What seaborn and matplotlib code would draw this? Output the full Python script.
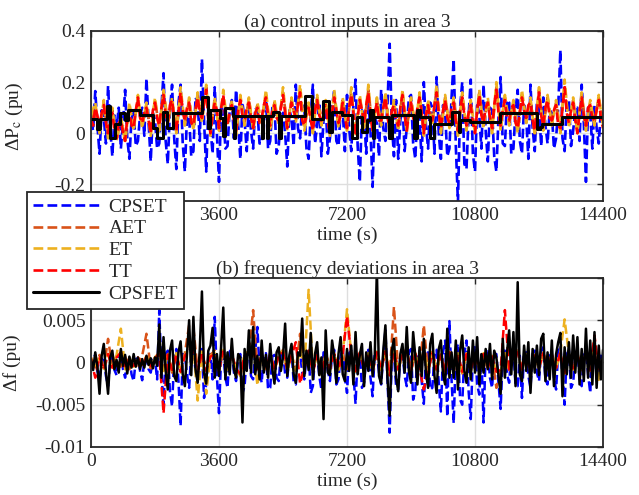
import numpy as np
import pandas as pd
import matplotlib
matplotlib.use("Agg")
import matplotlib.pyplot as plt
import seaborn as sns

# ---------------- data ----------------
T_END = 14400
x_ticks = [0, 3600, 7200, 10800, 14400]
x_ticklabels = ["0", "3600", "7200", "10800", "14400"]
a_yticks = [-0.2, 0, 0.2, 0.4]
a_yticklabels = ["-0.2", "0", "0.2", "0.4"]
b_yticks = [-0.01, -0.005, 0, 0.005, 0.01]
b_yticklabels = ["-0.01", "-0.005", "0", "0.005", "0.01"]

series_names = ["CPSET", "AET", "ET", "TT", "CPSFET"]
series_colors = ["#0000FF", "#D95319", "#EDB120", "#FF0000", "#000000"]

# (a) control inputs (pu), each list sampled evenly over 0..14400 s
a_cpset = [
    0.05, 0.01, 0.165, 0.03, -0.08, 0.09, 0.06, -0.04, 0.185, 0.02, -0.09, 0.07, 0.02, 0.10, -0.06, 0.04, 0.17, -0.02, -0.10, 0.06,
    0.08, -0.05, -0.03, 0.07, 0.10, -0.01, 0.215, 0.04, -0.11, 0.08, 0.05, -0.06, -0.04, 0.10, 0.235, -0.03, -0.12, 0.09, 0.19, -0.02,
    -0.14, 0.12, 0.19, -0.04, -0.15, 0.07, 0.06, -0.09, -0.07, 0.14, 0.12, -0.03, 0.29, 0.05, -0.15, 0.10, 0.02, -0.08, 0.18, 0.00,
    -0.19, 0.11, 0.08, -0.06, -0.05, 0.09, 0.13, -0.02, 0.17, 0.03, -0.10, 0.12, 0.05, -0.07, 0.12, 0.01, -0.06, 0.10, 0.09, -0.04,
    -0.04, 0.08, 0.14, -0.06, -0.03, 0.10, 0.11, -0.08, -0.05, 0.06, 0.08, 0.00, -0.13, 0.09, 0.06, -0.05, 0.19, 0.02, -0.02, 0.11,
    0.10, -0.06, -0.10, 0.08, 0.19, -0.04, 0.03, 0.12, -0.09, 0.05, 0.12, -0.08, -0.02, 0.10, 0.17, -0.03, -0.05, 0.08, 0.09, -0.07,
    0.15, 0.02, -0.07, 0.11, 0.21, -0.05, -0.19, 0.09, 0.07, -0.08, 0.13, 0.01, -0.21, 0.06, 0.04, -0.09, 0.17, 0.02, -0.03, 0.12,
    0.35, 0.04, -0.09, 0.13, -0.10, 0.05, 0.12, -0.07, 0.02, 0.14, 0.15, -0.04, -0.10, 0.08, 0.06, -0.11, 0.20, 0.03, -0.06, 0.12,
    0.10, -0.08, 0.22, 0.00, -0.10, 0.11, 0.08, -0.09, -0.06, 0.14, 0.29, -0.05, -0.27, 0.10, 0.20, -0.12, -0.14, 0.07, 0.21, -0.08,
    -0.15, 0.12, 0.07, -0.06, 0.19, 0.01, -0.11, 0.10, 0.09, -0.09, -0.15, 0.06, 0.22, -0.04, -0.05, 0.13, 0.12, -0.08, -0.06, 0.09,
    0.17, -0.03, -0.08, 0.11, 0.06, -0.10, 0.19, 0.02, -0.07, 0.12, 0.10, -0.05, 0.14, 0.03, -0.04, 0.09, 0.08, -0.06, -0.02, 0.10,
    0.325, -0.02, -0.07, 0.12, 0.13, -0.05, 0.01, 0.09, 0.10, -0.03, 0.19, 0.04, -0.19, 0.10, 0.08, -0.06, 0.11, 0.02, -0.04, 0.09,
    0.06,
]
a_aet = [
    0.05, 0.09, 0.01, 0.12, -0.01, 0.09, -0.03, 0.06, -0.02, 0.10,
    0.03, 0.13, 0.03, 0.11, 0.01, 0.13, 0.02, 0.16, 0.05, 0.12,
    0.02, 0.15, 0.04, 0.13, 0.02, 0.15, 0.05, 0.18, 0.01, 0.13,
    0.03, 0.14, 0.05, 0.12, 0.00, 0.14, 0.04, 0.13, 0.03, 0.11,
    0.05, 0.15, 0.02, 0.12, 0.04, 0.16, 0.03, 0.13, 0.05, 0.17,
    0.02, 0.11, 0.02, 0.14, 0.04, 0.12, 0.01, 0.15, 0.03, 0.13,
    0.03, 0.16, 0.01, 0.14, 0.03, 0.17, 0.02, 0.13, 0.04, 0.15,
    0.01, 0.12, 0.02, 0.16, 0.02, 0.13, 0.03, 0.15, 0.01, 0.12,
    0.04, 0.17, 0.01, 0.14, 0.03, 0.13, 0.00, 0.15, 0.02, 0.12,
    0.01, 0.16, 0.03, 0.13, 0.01, 0.18, 0.02, 0.14, 0.04, 0.12,
    0.01, 0.15, 0.05, 0.13, 0.00, 0.17, 0.02, 0.14, 0.04, 0.12,
    0.01, 0.19, 0.03, 0.13, 0.01, 0.15, 0.02, 0.12, 0.04, 0.14,
    0.03,
]
a_et = [
    0.07, 0.12, 0.00, 0.13, -0.02, 0.10, -0.03, 0.07, -0.04, 0.12,
    0.01, 0.15, 0.02, 0.12, -0.01, 0.14, 0.01, 0.17, 0.03, 0.14,
    0.00, 0.18, 0.03, 0.14, 0.01, 0.16, 0.04, 0.19, -0.01, 0.14,
    0.01, 0.17, 0.03, 0.13, -0.01, 0.15, 0.03, 0.14, 0.01, 0.12,
    0.04, 0.17, 0.01, 0.13, 0.03, 0.18, 0.01, 0.14, 0.04, 0.19,
    0.01, 0.12, 0.00, 0.15, 0.03, 0.13, -0.01, 0.17, 0.02, 0.14,
    0.01, 0.18, -0.01, 0.15, 0.02, 0.19, 0.00, 0.14, 0.03, 0.16,
    -0.01, 0.13, 0.01, 0.17, 0.00, 0.14, 0.02, 0.16, -0.01, 0.13,
    0.03, 0.19, 0.00, 0.15, 0.02, 0.14, -0.01, 0.16, 0.01, 0.13,
    0.00, 0.17, 0.02, 0.14, 0.00, 0.20, 0.01, 0.15, 0.03, 0.13,
    0.00, 0.17, 0.04, 0.14, -0.01, 0.18, 0.01, 0.15, 0.03, 0.13,
    0.00, 0.21, 0.02, 0.14, 0.00, 0.16, 0.01, 0.13, 0.03, 0.15,
    0.02,
]
a_tt = [
    0.06, 0.03, 0.10, 0.07, 0.02, 0.08, 0.11, 0.04, 0.00, 0.06, 0.08, 0.01, -0.02, 0.04, 0.05, 0.00, -0.03, 0.06, 0.09, 0.03,
    0.02, 0.09, 0.14, 0.06, 0.04, 0.08, 0.10, 0.05, 0.00, 0.09, 0.12, 0.06, 0.03, 0.10, 0.15, 0.07, 0.04, 0.11, 0.13, 0.05,
    0.01, 0.08, 0.16, 0.09, 0.05, 0.10, 0.12, 0.04, 0.03, 0.09, 0.14, 0.08, 0.06, 0.12, 0.17, 0.05, 0.00, 0.07, 0.12, 0.09,
    0.02, 0.10, 0.15, 0.06, 0.04, 0.08, 0.11, 0.05, 0.01, 0.09, 0.13, 0.07, 0.05, 0.10, 0.12, 0.06, 0.02, 0.08, 0.10, 0.04,
    0.06, 0.11, 0.14, 0.07, 0.03, 0.09, 0.11, 0.06, 0.05, 0.10, 0.15, 0.08, 0.02, 0.07, 0.12, 0.09, 0.06, 0.11, 0.16, 0.05,
    0.03, 0.08, 0.10, 0.05, 0.01, 0.09, 0.13, 0.07, 0.05, 0.10, 0.11, 0.04, 0.00, 0.08, 0.14, 0.09, 0.04, 0.07, 0.12, 0.06,
    0.02, 0.10, 0.15, 0.08, 0.00, 0.06, 0.13, 0.09, 0.04, 0.11, 0.16, 0.07, 0.01, 0.08, 0.12, 0.05, 0.05, 0.10, 0.14, 0.06,
    0.02, 0.09, 0.11, 0.05, 0.03, 0.10, 0.15, 0.07, 0.01, 0.08, 0.12, 0.06, 0.04, 0.10, 0.14, 0.08, 0.00, 0.07, 0.11, 0.05,
    0.05, 0.11, 0.16, 0.08, 0.02, 0.09, 0.13, 0.06, 0.04, 0.10, 0.12, 0.05, 0.01, 0.09, 0.14, 0.07, 0.03, 0.08, 0.11, 0.04,
    0.00, 0.09, 0.15, 0.07, 0.04, 0.10, 0.12, 0.06, 0.02, 0.11, 0.17, 0.08, 0.03, 0.09, 0.13, 0.06, 0.05, 0.10, 0.11, 0.04,
    0.02, 0.08, 0.14, 0.09, 0.06, 0.11, 0.12, 0.05, 0.01, 0.09, 0.16, 0.07, 0.03, 0.10, 0.13, 0.06, 0.05, 0.09, 0.11, 0.03,
    0.02, 0.10, 0.18, 0.08, 0.04, 0.09, 0.12, 0.05, 0.00, 0.08, 0.14, 0.07, 0.03, 0.10, 0.11, 0.06, 0.05, 0.09, 0.13, 0.06,
    0.02,
]
# CPSFET control input is piecewise constant: change times (s) and levels (pu)
a_cpsfet_t = [0, 160, 250, 440, 530, 675, 815, 955, 1040, 1380, 1745, 1855, 2025,
              2140, 2305, 3120, 3290, 3350, 3630, 3712, 3780, 3995, 4020, 4060,
              4810, 4850, 4950, 4990, 5120, 5300, 5340, 6020, 6215, 6525, 6700,
              6780, 7060, 7340, 7480, 7620, 7760, 7850, 7920, 7960, 8380, 8465,
              9085, 9170, 9250, 9535, 9650, 10150, 10350, 10390, 10660, 11500,
              12545, 12630, 12685, 13260, 14400]
a_cpsfet_v = [0.055, 0.015, 0.055, 0.105, -0.02, 0.035, 0.08, 0.05, 0.09, 0.07, 0.02,
              -0.02, 0.085, 0.02, 0.08, 0.14, 0.02, 0.09, 0.06, -0.01, 0.10, 0.067,
              -0.02, 0.067, -0.02, 0.067, -0.02, 0.067, 0.085, -0.02, 0.067, 0.145,
              0.055, 0.125, 0.005, 0.085, 0.07, -0.02, 0.065, 0.005, 0.05, 0.09,
              -0.02, 0.065, -0.02, 0.07, -0.02, 0.09, 0.065, -0.02, 0.035, 0.085,
              0.005, 0.05, 0.045, 0.08, 0.015, 0.025, 0.038, 0.063, 0.063]

# (b) frequency deviations, in units of 1e-3 pu, each list sampled evenly over 0..14400 s
b_cpset_m = [
    -0.8, 0.4, 0.9, -1.0, -2.0, 0.5, 0.7, -1.6, -2.8, 0.3, 0.6, -0.9, -1.5, 0.7, 1.1, -0.8, -1.8, 0.3, 0.7, -1.4,
    -2.2, 0.4, 0.5, -1.0, -2.1, 0.3, 0.6, -0.8, -1.2, 0.3, 0.4, -2.0, 6.2, -1.2, -5.0, 1.0, 1.4, -3.4, -5.2, 0.6,
    1.6, -2.2, -7.5, 1.0, 0.9, -1.4, -3.0, 1.2, 1.4, -1.0, -2.0, 0.9, 1.6, -4.2, -2.6, 0.7, 1.0, -2.0, 5.4, -1.6,
    -6.0, 0.8, 1.2, -1.8, -3.0, 1.3, 1.6, -1.2, -2.2, 0.6, 1.0, -3.6, -2.8, 0.8, 1.2, -1.6, -2.0, 1.4, 4.2, -1.0,
    -2.4, 0.9, 1.1, -3.2, -3.0, 0.7, 0.9, -1.8, -2.2, 1.1, 1.4, -1.4, -1.8, 0.6, 1.6, -2.4, -2.6, 1.0, 1.2, -1.2,
    -2.0, 0.8, 1.4, -3.6, -2.8, 0.7, 1.1, -1.6, -3.2, 1.2, 1.3, -1.0, -2.2, 0.9, 1.5, -2.6, -2.0, 0.7, 1.8, -1.8,
    -3.6, 1.1, 1.4, -1.4, -4.9, 0.9, 1.0, -3.0, -2.4, 0.6, 1.5, -1.8, -4.0, 1.3, 1.1, -1.2, -2.6, 0.8, 3.8, -2.2,
    -8.3, 0.7, 1.0, -2.8, -3.2, 0.9, 1.3, -1.6, -2.8, 1.1, 1.6, -4.4, -3.4, 0.8, 1.4, -2.2, -4.9, 1.0, 1.2, -3.2,
    -3.0, 0.9, 1.5, -2.4, -5.8, 1.2, 2.6, -6.4, 4.9, -2.0, -7.2, 1.0, 2.2, -4.4, -5.0, 1.1, 2.6, -3.4, -6.7, 0.8,
    2.0, -2.6, -3.8, 0.9, -7.1, 1.2, 1.3, -1.8, -3.0, 0.7, 1.0, -2.4, -5.5, 0.9, 1.4, -1.4, -2.4, 1.1, 1.6, -2.8,
    -2.8, 0.8, -4.2, 1.1, 1.2, -1.6, -3.0, 1.0, 1.4, -1.2, -2.2, 1.3, 1.8, -2.0, -2.6, 0.8, 1.1, -1.8, -3.2, 1.2,
    2.0, -1.6, -5.0, 1.0, 1.4, -3.0, -2.4, 0.7, 1.6, -2.0, -2.8, 0.9, 1.2, -1.4, -3.6, 1.3, 1.5, -1.6, -2.0, 0.8,
    0.6,
]
b_aet_m = [
    0.6, -0.8, 0.9, -0.7, 2.8, -0.6, 0.8, -0.5, 0.7, -0.8,
    0.5, -0.6, 0.8, 3.4, -0.7, 0.6, 1.2, -0.9, 1.0, -1.2,
    0.8, -1.0, 1.1, 4.4, 4.1, -1.0, 1.2, -0.8, 0.9, 1.4,
    -1.0, 1.3, -0.7, 1.0, -0.9, -1.6, 0.8, 1.2, 6.2, -0.9,
    1.0, -0.8, 1.1, -0.9, 0.8, 1.5, -0.8, 1.0, -1.0, 3.4,
    -0.7, 1.2, -0.9, 1.0, -1.4, 1.2, -0.8, 1.0, -0.9, 1.1,
    -0.8, 1.0, -1.1, 1.2, -0.8, 1.0, -1.0, 1.4, -0.9, 1.3,
    -1.5, 6.6, -0.9, 1.0, 1.6, -1.0, 1.1, -0.8, 4.4, -1.2,
    1.3, -0.9, 1.0, -1.2, 1.3, -1.1, 0.9, -1.3, 1.1, -1.0,
    1.0, -0.8, 0.9, -0.7, 0.8, -3.0, -1.1, 1.1, -0.9, 1.2,
    1.4, -0.9, 1.0, -1.1, 0.9, -0.7, 1.2, -0.8, 1.0, -0.7,
    1.2, -1.3, 1.0, -0.8, 1.1, -0.9, 1.4, -1.0, 1.2, -0.8,
    0.5,
]
b_et_m = [
    0.5, -0.7, 0.8, -0.9, 1.0, -0.6, 0.9, 4.0, -0.8, 0.6,
    -0.5, 0.7, -0.6, 0.9, -0.5, 0.6, 1.2, -1.0, 1.0, -1.0,
    1.1, -1.2, 0.9, 1.8, 1.9, -4.5, 1.3, -3.7, 0.8, 1.1,
    -1.0, 1.5, -0.9, 1.0, -0.8, -1.6, 1.1, 1.3, 1.9, -2.7,
    0.9, -0.7, 1.0, -0.9, 0.9, 1.4, -1.0, 0.9, -1.0, 1.6,
    -0.9, 8.6, -0.8, 1.0, -1.4, 1.1, -0.9, 1.1, -0.9, 1.0,
    6.3, 1.0, -1.1, 1.2, -0.8, 1.1, -1.2, 1.3, -0.9, 1.4,
    -1.5, 1.6, -0.9, 1.0, 1.4, -1.0, 1.1, -0.8, 1.5, -1.1,
    1.2, -0.9, 1.0, -1.1, 1.3, -1.0, 1.1, -1.2, 1.1, -1.0,
    1.0, -0.8, 1.1, -0.7, 0.8, -1.2, -1.0, 1.1, -0.9, 1.2,
    1.3, -0.9, 1.0, -1.1, 0.9, -0.7, 1.2, -0.8, 1.0, -0.7,
    1.2, 5.1, 1.0, -0.8, 1.1, -0.9, 1.3, -1.0, 2.9, -2.2,
    0.4,
]
b_tt_m = [
    0.4, -1.8, 0.6, -0.8, 1.0, -0.6, 0.6, 1.2, -0.7, 0.5,
    -0.4, 0.6, -0.5, 0.7, -0.4, 0.5, 1.0, -6.0, 0.9, -0.9,
    1.0, -1.1, 0.8, 1.5, 1.6, -1.3, 1.2, -1.0, 0.7, 1.0,
    -0.9, 1.3, -0.8, 0.9, -0.7, -1.4, 0.8, 1.1, 1.7, -0.8,
    0.8, -0.6, 0.9, -0.8, 0.8, 1.2, -0.8, 0.8, 2.4, -2.5,
    -0.6, 1.4, -1.2, 0.9, -1.2, 1.0, -0.8, 1.0, -0.8, 0.9,
    5.5, 0.9, -1.0, 1.1, -0.7, 1.0, -1.0, 1.2, -0.8, 1.3,
    -1.5, 1.3, -0.8, 0.9, 1.3, -0.9, 1.0, -0.7, -3.2, -1.0,
    1.1, -0.8, 0.9, -1.0, 1.2, -0.9, 1.0, -1.1, 1.0, -0.9,
    0.9, -0.7, 1.0, -0.6, 0.7, -1.1, -0.9, 6.2, -0.8, 1.1,
    1.2, -0.8, 0.9, -1.0, 0.8, -0.6, 1.1, -0.7, 0.9, -0.6,
    1.1, -1.2, 0.9, -0.7, 1.0, -0.8, 1.2, -0.9, 3.2, -1.0,
    0.3,
]
b_cpsfet_m = [
    0.4, -0.9, 1.2, -0.5, -3.7, 0.8, 2.2, -1.1, -3.7, 0.6, 1.4, -0.8, 0.3, -1.2, 1.6, -0.4, 0.9, -1.3, 0.7, -0.6,
    1.0, -0.5, 0.6, -0.8, 0.4, -0.6, 0.8, -0.3, 0.5, -0.7, 0.6, -0.4, 4.5, -1.8, 3.0, -1.0, -3.2, 1.4, 2.6, -1.6,
    -2.2, 1.2, 2.5, -1.4, -2.8, 1.0, 5.0, -1.5, 5.4, -0.8, -2.4, 1.6, 8.4, -1.2, -2.5, 1.4, 2.0, 4.1, -1.8, 1.0,
    -1.6, 1.8, 6.5, -2.0, 1.2, -1.4, 2.8, -0.8, -1.8, 1.0, 0.6, -7.1, 1.6, -1.0, 3.8, -1.2, 4.2, -1.4, 0.8, -2.0,
    2.6, -1.2, 0.9, -1.8, 2.2, -0.8, -2.5, 1.2, 1.8, -1.0, 0.7, 4.6, -1.6, 0.9, 2.2, -1.4, -2.4, 1.2, 0.8, 5.2,
    -1.6, 1.4, -0.9, 3.5, -2.0, 1.0, 2.4, -1.5, 0.6, -6.7, 3.8, -1.2, -1.5, 2.6, 0.8, -2.4, 1.0, 3.0, -1.4, -2.2,
    1.6, -1.0, 2.0, -2.6, 3.6, -1.4, 0.9, 2.2, -2.8, 1.2, -1.0, 2.4, -1.6, 0.8, 11.0, -1.6, -2.5, 1.4, 4.4, -2.0,
    -6.3, 1.4, 2.8, -1.8, -3.4, 1.0, 2.2, -1.2, 4.2, -1.0, -2.4, 3.6, 0.8, -2.6, 1.8, -1.6, 2.8, -1.2, -3.0, 2.2,
    3.4, -1.6, -3.6, 1.6, 2.6, -1.4, -2.6, 4.0, -1.8, 1.2, -1.8, 2.6, -3.2, 1.4, 3.2, -1.0, -2.4, 1.8, -2.0, 2.6,
    -1.2, 3.0, -2.6, 1.0, -1.2, 1.6, -0.8, 2.2, -2.0, 1.4, 0.6, -1.6, -3.7, 2.8, -1.8, 1.2, 3.8, -1.4, 3.6, -2.8,
    9.5, -1.4, -2.2, 2.0, -1.0, 2.4, -3.6, 1.6, -1.2, 2.0, -1.5, 2.8, 3.4, -2.2, 1.2, -2.0, 2.6, -2.8, 1.0, 2.4,
    3.5, -4.0, 1.8, -1.4, 2.4, -1.8, 3.2, -1.2, 3.0, -2.6, 1.6, -2.2, 4.0, -1.8, 2.6, -2.6, 3.6, -3.0, 2.0, -2.0,
    1.5,
]

# ---------------- style ----------------
sns.set_style("white")
plt.rcParams["font.family"] = ["Liberation Serif", "DejaVu Serif"]
plt.rcParams["mathtext.fontset"] = "stix"
plt.rcParams["axes.unicode_minus"] = False
FS = 14
INK = "#262626"

fig = plt.figure(figsize=(6.39, 4.95), dpi=100)
ax_a = fig.add_axes([0.1424, 0.5939, 0.8013, 0.3435])
ax_b = fig.add_axes([0.1424, 0.0970, 0.8013, 0.3414])


def even_time(vals):
    return np.linspace(0, T_END, len(vals))


a_noisy = [a_cpset, a_aet, a_et, a_tt]
for name, col, vals in zip(series_names[:4], series_colors[:4], a_noisy):
    df = pd.DataFrame({"t": even_time(vals), "v": vals})
    sns.lineplot(data=df, x="t", y="v", ax=ax_a, color=col, linestyle="--",
                 linewidth=1.9, label=name, legend=False, estimator=None)
df = pd.DataFrame({"t": a_cpsfet_t, "v": a_cpsfet_v})
sns.lineplot(data=df, x="t", y="v", ax=ax_a, color=series_colors[4], linestyle="-",
             linewidth=2.2, drawstyle="steps-post", label=series_names[4],
             legend=False, estimator=None)

b_series = [b_cpset_m, b_aet_m, b_et_m, b_tt_m, b_cpsfet_m]
for i, (name, col, vals) in enumerate(zip(series_names, series_colors, b_series)):
    df = pd.DataFrame({"t": even_time(vals), "v": np.array(vals) * 1e-3})
    sns.lineplot(data=df, x="t", y="v", ax=ax_b, color=col,
                 linestyle="-" if i == 4 else "--",
                 linewidth=1.8, legend=False, estimator=None)

for ax, yt, ytl, ylim, ylab, title, ylx in [
    (ax_a, a_yticks, a_yticklabels, (-0.265, 0.4), r"ΔP$_{\mathrm{c}}$ (pu)",
     "(a) control inputs in area 3", -0.128),
    (ax_b, b_yticks, b_yticklabels, (-0.01, 0.01), "Δf (pu)",
     "(b) frequency deviations in area 3", -0.137),
]:
    ax.set_xlim(0, T_END)
    ax.set_ylim(*ylim)
    ax.set_xticks(x_ticks)
    ax.set_xticklabels(x_ticklabels, fontsize=FS)
    ax.set_yticks(yt)
    ax.set_yticklabels(ytl, fontsize=FS)
    ax.grid(True, color="#dedede", linewidth=1.0)
    ax.set_axisbelow(True)
    ax.tick_params(direction="in", length=4, width=1.0, top=True, right=True,
                   colors=INK, labelcolor=INK, pad=4)
    for s in ax.spines.values():
        s.set_linewidth(1.3)
        s.set_color(INK)
    ax.set_xlabel("time (s)", fontsize=FS, color=INK, labelpad=2)
    ax.set_ylabel(ylab, fontsize=FS, color=INK)
    ax.yaxis.set_label_coords(ylx, 0.5)
    ax.set_title(title, fontsize=FS, color=INK, pad=3)

handles, labels = ax_a.get_legend_handles_labels()
leg = fig.legend(handles, labels, loc="upper left", bbox_to_anchor=(0.042, 0.612),
                 fontsize=FS, frameon=True, fancybox=False, framealpha=1.0,
                 edgecolor=INK, handlelength=3.4, handletextpad=0.5,
                 labelspacing=0.22, borderpad=0.3, borderaxespad=0.0)
leg.get_frame().set_linewidth(1.3)
leg.set_zorder(10)

fig.savefig("out.png", dpi=100)
